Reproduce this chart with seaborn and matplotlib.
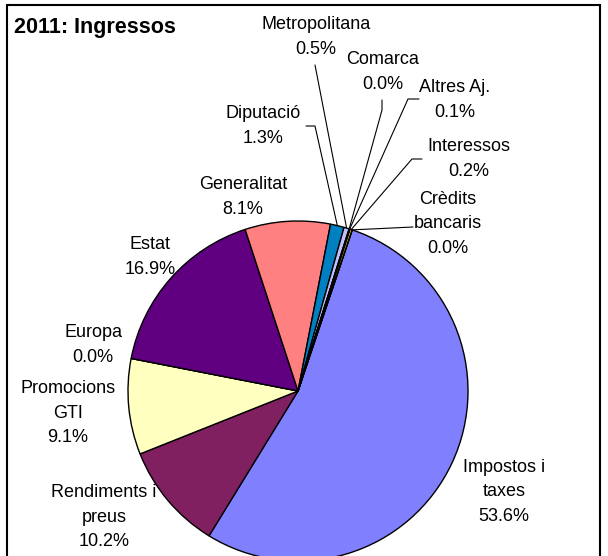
import matplotlib
matplotlib.use("Agg")
import numpy as np
import matplotlib.pyplot as plt
import seaborn as sns

W, H = 608, 556

categories = ["Impostos i\ntaxes", "Rendiments i\npreus", "Promocions\nGTI", "Europa",
              "Estat", "Generalitat", "Diputació", "Metropolitana", "Comarca",
              "Altres Aj.", "Interessos", "Crèdits\nbancaris"]
shares = [53.6, 10.2, 9.1, 0.0, 16.9, 8.1, 1.3, 0.5, 0.0, 0.1, 0.2, 0.0]
colors = ["#8080FF", "#802060", "#FFFFC0", "#A0E0E0", "#600080", "#FF8080",
          "#0080C0", "#C0C0FF", "#000080", "#FF00FF", "#FFFF00", "#00FFFF"]

# label centres in pixel coords (x, y from top)
label_pos = [(504, 492), (104, 517), (68, 413), (93, 345), (150, 257), (243, 197),
             (263, 126), (316, 37), (383, 72), (455, 100), (469, 159), (448, 224)]
# leader line elbows (pixel coords), None = no leader line
leaders = [None, None, None, None, None, None,
           [(306, 126), (315, 126)], [(315, 65)], [(382, 100), (382, 110)],
           [(419, 99), (408, 99)], [(422, 159), (412, 159)], [(413, 227)]]

sns.set_style("white")
plt.rcParams['font.family'] = ['Liberation Sans', 'DejaVu Sans']
plt.rcParams['text.color'] = 'black'

def px(x, y):
    return x, H - y

fig = plt.figure(figsize=(W / 100, H / 100), dpi=100)
ax = fig.add_axes([0, 0, 1, 1])

cx, cy = px(298, 391)
wedges, _ = ax.pie(shares, colors=colors, startangle=71.4, counterclock=False,
                   center=(cx, cy), radius=170,
                   wedgeprops=dict(edgecolor="black", linewidth=1.0))
ax.set_xlim(0, W)
ax.set_ylim(0, H)
ax.set_aspect("equal")
ax.axis("off")

for w, name, v, pos, lead in zip(wedges, categories, shares, label_pos, leaders):
    ax.text(*px(*pos), f"{name}\n{v:.1f}%", ha="center", va="center",
            multialignment="center", fontsize=13, linespacing=1.6, color="black")
    if lead is not None:
        mid = np.deg2rad((w.theta1 + w.theta2) / 2)
        ex = cx + w.r * np.cos(mid)
        ey = cy + w.r * np.sin(mid)
        pts = [px(*p) for p in lead] + [(ex, ey)]
        ax.plot([p[0] for p in pts], [p[1] for p in pts], color="black", lw=0.8)

ax.text(*px(14, 28), "2011: Ingressos", ha="left", va="center",
        fontsize=15.5, fontweight="bold", color="black")

fig.add_artist(plt.Rectangle((7 / W, -0.05), (600 - 7) / W, (H - 5) / H + 0.05,
                             transform=fig.transFigure, fill=False,
                             edgecolor="black", linewidth=1.5))

fig.savefig("out.png", dpi=100)
